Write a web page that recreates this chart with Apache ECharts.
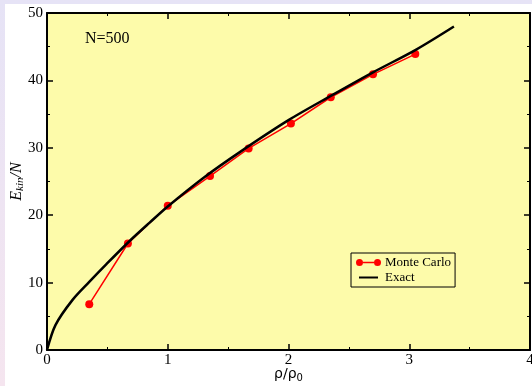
<!DOCTYPE html>
<html><head><meta charset="utf-8">
<script src="https://cdn.jsdelivr.net/npm/echarts@6/dist/echarts.min.js"></script>
<style>
html,body{margin:0;padding:0;width:532px;height:386px;overflow:hidden;background:linear-gradient(#e6e3f6,#f5e5ef);}
#bg{position:absolute;left:5px;top:4px;right:0;bottom:0;background:#fff;}
#chart{position:absolute;left:0;top:0;width:532px;height:386px;}
</style></head>
<body><div id="bg"></div><div id="chart"></div>
<script>
var mcRho = [0.35, 0.67, 1.0, 1.35, 1.67, 2.02, 2.35, 2.70, 3.05];
var mcE   = [6.8, 15.8, 21.4, 25.8, 29.9, 33.6, 37.5, 40.9, 43.9];
var exRho = [0, 0.07, 0.21, 0.35, 0.49, 0.68, 0.85, 1.0, 1.3, 1.6, 2.0, 2.35, 2.7, 3.05, 3.37];
var exE   = [0, 3.7, 7.4, 10.1, 12.7, 16.1, 18.9, 21.3, 25.6, 29.4, 34.1, 37.7, 41.2, 44.5, 48.0];
var xTicks = [0, 1, 2, 3, 4];
var yTicks = [0, 10, 20, 30, 40, 50];

var serif = '"Liberation Serif","DejaVu Serif",serif';
var chart = echarts.init(document.getElementById('chart'), null, {renderer:'canvas'});
function axisCommon(){
  return {
    axisLine:{show:true,onZero:false,lineStyle:{color:'#000',width:2}},
    axisTick:{show:true,inside:true,length:6,lineStyle:{color:'#000',width:1.5}},
    minorTick:{show:true,splitNumber:2,length:3,lineStyle:{color:'#000',width:1}},
    splitLine:{show:false}
  };
}
var xb = Object.assign(axisCommon(), {type:'value',min:xTicks[0],max:xTicks[xTicks.length-1],interval:1,position:'bottom',
  axisLabel:{color:'#000',fontFamily:serif,fontSize:15,margin:3},
  name:'{a|ρ/ρ}{s|0}',nameLocation:'middle',nameGap:15,nameMoveOverlap:false,
  nameTextStyle:{rich:{a:{fontFamily:'"DejaVu Sans",sans-serif',fontSize:14,color:'#000'},s:{fontFamily:'"DejaVu Sans",sans-serif',fontSize:10,color:'#000',verticalAlign:'bottom',padding:[8,0,0,0]}}}});
var xt = Object.assign(axisCommon(), {type:'value',min:xTicks[0],max:xTicks[xTicks.length-1],interval:1,position:'top',axisLabel:{show:false}});
var yl = Object.assign(axisCommon(), {type:'value',min:yTicks[0],max:yTicks[yTicks.length-1],interval:10,position:'left',
  axisLabel:{color:'#000',fontFamily:serif,fontSize:15,margin:4},
  name:'{a|E}{s|kin}{a|/N}',nameLocation:'middle',nameGap:21,nameRotate:90,nameMoveOverlap:false,
  nameTextStyle:{rich:{a:{fontFamily:serif,fontStyle:'italic',fontSize:16,color:'#000'},s:{fontFamily:serif,fontStyle:'italic',fontSize:11,color:'#000',padding:[8,0,0,0]}}}});
var yr = Object.assign(axisCommon(), {type:'value',min:yTicks[0],max:yTicks[yTicks.length-1],interval:10,position:'right',axisLabel:{show:false}});

chart.setOption({
  animation:false,
  backgroundColor:'transparent',
  grid:{left:47,right:2,top:13,bottom:36,containLabel:false,outerBoundsMode:'none',show:true,borderWidth:0,backgroundColor:'#fdfbaa'},
  title:{text:'N=500',left:80,top:26,textStyle:{fontFamily:serif,fontWeight:'normal',fontSize:16,color:'#000'}},
  xAxis:[xb, xt],
  yAxis:[yl, yr],
  legend:{
    orient:'vertical',left:351,top:253,
    padding:[3,4,3,5],itemGap:2,itemWidth:25,itemHeight:7,
    borderColor:'#000',borderWidth:1,backgroundColor:'transparent',
    textStyle:{fontFamily:serif,fontSize:13,color:'#000',padding:[0,0,0,-1]},
    data:[
      {name:'Monte Carlo',icon:'path://M0,4A3.5,3.5 0 1,0 7,4A3.5,3.5 0 1,0 0,4ZM7,3.2H18V4.8H7ZM18,4A3.5,3.5 0 1,0 25,4A3.5,3.5 0 1,0 18,4Z',itemStyle:{color:'#ff0000'}},
      {name:'Exact',icon:'path://M0,0M25,7M3,2.5H22V4.5H3Z',itemStyle:{color:'#000'}}
    ]
  },
  series:[
    {name:'Exact',type:'line',xAxisIndex:0,yAxisIndex:0,showSymbol:false,smooth:0.3,
      lineStyle:{color:'#000',width:2.5},itemStyle:{color:'#000'},
      data:exRho.map(function(x,i){return [x,exE[i]];}),z:3},
    {name:'Monte Carlo',type:'line',xAxisIndex:0,yAxisIndex:0,symbol:'circle',symbolSize:8,
      lineStyle:{color:'#ff0000',width:1.5},itemStyle:{color:'#ff0000'},
      data:mcRho.map(function(x,i){return [x,mcE[i]];}),z:2}
  ]
});
</script></body></html>
